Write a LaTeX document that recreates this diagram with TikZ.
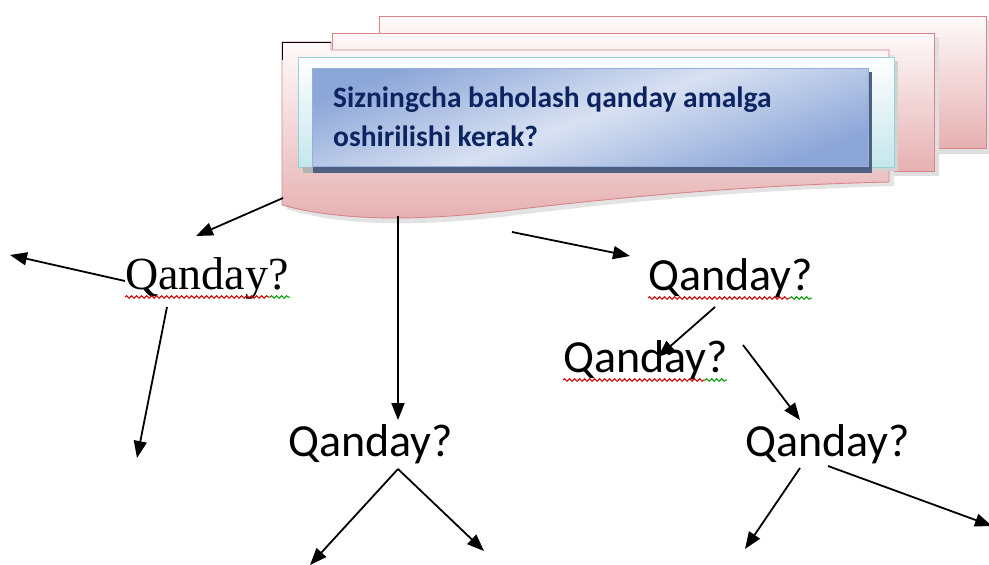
\documentclass[tikz,border=0pt]{standalone}
\usepackage{fontspec}
\setmainfont{Liberation Serif}
\newfontfamily\carlitofont{Carlito}
\usetikzlibrary{arrows.meta,decorations.pathmorphing,shadings}
\definecolor{pinkedge}{RGB}{216,132,136}
\definecolor{pinklo}{RGB}{230,176,178}
\definecolor{pinkhi}{RGB}{254,250,250}
\definecolor{navy}{RGB}{12,36,96}
\definecolor{bluedark}{RGB}{140,166,216}
\definecolor{bluelite}{RGB}{216,225,242}
\definecolor{cyanedge}{RGB}{150,210,220}
\definecolor{shadowblue}{RGB}{78,96,128}
\tikzset{
  page/.style={draw=pinkedge, line width=0.9pt, top color=pinkhi, bottom color=pinklo},
  arr/.style={line width=1.8pt, -{Triangle[length=17pt,width=13pt]}},
  qs/.style={font=\carlitofont\fontsize{46}{50}\selectfont, inner sep=0pt, anchor=base west},
  qt/.style={font=\fontsize{46}{50}\selectfont, inner sep=0pt, anchor=base west},
  wavy/.style={decorate, decoration={snake, amplitude=1.3pt, segment length=5pt}, line width=1pt},
  title/.style={font=\carlitofont\bfseries\fontsize{29.5}{34}\selectfont, text=navy, anchor=base west, inner sep=0pt}
}
\begin{document}
\begin{tikzpicture}[x=1pt,y=-1pt]
\useasboundingbox (0,0) rectangle (989,565);
% back page
\fill[gray!25] (383,20) rectangle (989,154);
\path[page] (379,16) rectangle (986,148);
% middle page
\fill[gray!25] (337,37) rectangle (939,176);
\path[page] (332,33) rectangle (934,171);
% front page with wavy bottom
\fill[gray!22] (287,55) -- (894,55) -- (894,186) .. controls (760,190) and (640,200) .. (525,214) .. controls (420,228) and (340,226) .. (287,209) -- cycle;
\path[page] (282,42) -- (331,42) -- (331,50) -- (889,50) -- (889,182) .. controls (760,185) and (640,195) .. (520,209) .. controls (420,222) and (340,221) .. (282,205) -- cycle;
\draw[line width=1pt] (331,42) -- (282,42) -- (282,60);
% cyan frame
\fill[gray!35] (302,61) rectangle (898,171);
\path[draw=cyanedge, line width=1pt, top color=white, bottom color=cyanedge!55] (298,57) rectangle (894,167);
% blue box
\fill[gray!60] (303,167) rectangle (313,173);
\fill[shadowblue] (313,72) rectangle (872,173);
\path[draw=bluedark!90, line width=0.8pt, left color=bluedark, right color=bluedark, middle color=bluelite, shading angle=20] (312,68) rectangle (868,166);
\node[title] (t1) at (333,107) {Sizningcha baholash qanday amalga};
\node[title] (t2) at (333,146) {oshirilishi kerak?};
% Qanday nodes
\node[qt] (q1) at (125,289) {Qanday?};
\node[qs] (q2) at (648,290) {Qanday?};
\node[qs] (q3) at (563,372) {Qanday?};
\node[qs] (q4) at (288,456) {Qanday?};
\node[qs] (q5) at (745,456) {Qanday?};
% squiggles
\draw[wavy, red!80!black] (125,297) -- (270,297);
\draw[wavy, green!60!black] (270,297) -- (290,297);
\draw[wavy, red!80!black] (648,298) -- (790,298);
\draw[wavy, green!60!black] (790,298) -- (812,298);
\draw[wavy, red!80!black] (563,380) -- (705,380);
\draw[wavy, green!60!black] (705,380) -- (727,380);
% coordinates
\coordinate (s1) at (283,198);
\coordinate (e1) at (196,236);
\coordinate (s2) at (398,216);
\coordinate (e2) at (398,420);
\coordinate (s3) at (512,232);
\coordinate (e3) at (630,256);
\coordinate (s4) at (125,281);
\coordinate (e4) at (10,255);
\coordinate (s5) at (167,307);
\coordinate (e5) at (137,458);
\coordinate (s6) at (715,307);
\coordinate (e6) at (658,357);
\coordinate (s7) at (743,345);
\coordinate (e7) at (800,420);
\coordinate (s8) at (398,469);
\coordinate (e8) at (310,565);
\coordinate (e9) at (484,551);
\coordinate (s10) at (800,468);
\coordinate (e10) at (745,549);
\coordinate (s11) at (828,466);
\coordinate (e11) at (992,526);
\draw[arr] (s1) -- (e1);
\draw[arr] (s2) -- (e2);
\draw[arr] (s3) -- (e3);
\draw[arr] (s4) -- (e4);
\draw[arr] (s5) -- (e5);
\draw[arr] (s6) -- (e6);
\draw[arr] (s7) -- (e7);
\draw[arr] (s8) -- (e8);
\draw[arr] (s8) -- (e9);
\draw[arr] (s10) -- (e10);
\draw[arr] (s11) -- (e11);
\end{tikzpicture}
\end{document}
